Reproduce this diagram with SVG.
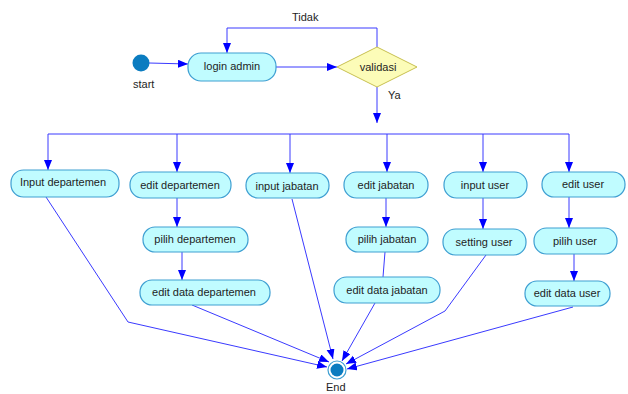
<svg xmlns="http://www.w3.org/2000/svg" width="628" height="394" viewBox="0 0 628 394">
  <style>
    .act rect { fill: #c0fcff; stroke: #3e9fd2; stroke-width: 1.2; }
    text { font-family: "Liberation Sans", Arial, sans-serif; font-size: 11px; fill: #1e1e1e; }
    .act text { text-anchor: middle; }
    .flow path { fill: none; stroke: #3a3aff; stroke-width: 1; }
    .flow path.a { marker-end: url(#arrow); }
    .dot { fill: #0b7cc0; }
  </style>
  <defs>
    <marker id="arrow" markerUnits="userSpaceOnUse" markerWidth="11" markerHeight="9" refX="10" refY="4" orient="auto">
      <path d="M0,0 L10,4 L0,8 z" fill="#0000ff"/>
    </marker>
  </defs>

  <rect width="628" height="394" fill="#ffffff"/>

  <!-- connectors -->
  <g class="flow" id="connectors">
    <path class="a" d="M149,63 L188,64"/>
    <path class="a" d="M276,67 L337,67"/>
    <path class="a" d="M377,47 V28 H227 V53"/>
    <path class="a" d="M377,87 V123"/>
    <path d="M48,134 H569"/>
    <path class="a" d="M48,134 V170"/>
    <path class="a" d="M177,134 V172"/>
    <path class="a" d="M290,134 V173"/>
    <path class="a" d="M387,134 V172"/>
    <path class="a" d="M483,134 V172"/>
    <path class="a" d="M569,134 V172"/>
    <path class="a" d="M177,198 V227"/>
    <path class="a" d="M182,252 V280"/>
    <path class="a" d="M386,198 V227"/>
    <path d="M385,252 L383,277"/>
    <path class="a" d="M483,198 V229"/>
    <path class="a" d="M569,197 V228"/>
    <path class="a" d="M574,254 V281"/>
    <path class="a" d="M46,197 L128,322 L327,367"/>
    <path class="a" d="M192,305 L329,362"/>
    <path class="a" d="M292,199 L333,359"/>
    <path class="a" d="M375,303 L342,361"/>
    <path class="a" d="M486,255 L445,311 L346,364"/>
    <path class="a" d="M573,307 L347,369"/>
  </g>

  <!-- start / end -->
  <g id="start">
    <circle class="dot" cx="141" cy="63" r="8.5"/>
    <text x="133" y="88" font-size="10">start</text>
  </g>
  <g id="end">
    <circle cx="337" cy="370" r="9" fill="#ffffff" stroke="#3e9fd2" stroke-width="1.2"/>
    <circle class="dot" cx="337" cy="370" r="6.5"/>
    <text x="326" y="391">End</text>
  </g>

  <!-- decision -->
  <g id="validasi">
    <polygon points="337,67 377,47 417,67 377,87" fill="#fcfcb8" stroke="#c8c050" stroke-width="1"/>
    <text x="378" y="71" text-anchor="middle">validasi</text>
  </g>
  <text x="292" y="21">Tidak</text>
  <text x="388" y="99">Ya</text>

  <!-- activities -->
  <g class="act" id="login-admin"><rect x="188" y="53" width="88" height="28" rx="13"/><text x="232" y="70">login admin</text></g>

  <g class="act" id="input-departemen"><rect x="11" y="170" width="108" height="27" rx="12.5"/><text x="63" y="186">Input departemen</text></g>
  <g class="act" id="edit-departemen"><rect x="130" y="172" width="101" height="26" rx="12.5"/><text x="180" y="189">edit departemen</text></g>
  <g class="act" id="input-jabatan"><rect x="246" y="173" width="83" height="25" rx="12"/><text x="287" y="190">input jabatan</text></g>
  <g class="act" id="edit-jabatan"><rect x="344" y="172" width="84" height="26" rx="12.5"/><text x="386" y="189">edit jabatan</text></g>
  <g class="act" id="input-user"><rect x="444" y="172" width="83" height="26" rx="12.5"/><text x="485" y="189">input user</text></g>
  <g class="act" id="edit-user"><rect x="542" y="172" width="83" height="25" rx="12"/><text x="583" y="188">edit user</text></g>

  <g class="act" id="pilih-departemen"><rect x="143" y="227" width="105" height="25" rx="12"/><text x="195" y="243">pilih departemen</text></g>
  <g class="act" id="pilih-jabatan"><rect x="346" y="227" width="82" height="25" rx="12"/><text x="387" y="243">pilih jabatan</text></g>
  <g class="act" id="setting-user"><rect x="443" y="229" width="83" height="26" rx="12.5"/><text x="484" y="246">setting user</text></g>
  <g class="act" id="pilih-user"><rect x="534" y="228" width="83" height="26" rx="12.5"/><text x="575" y="245">pilih user</text></g>

  <g class="act" id="edit-data-departemen"><rect x="140" y="280" width="130" height="25" rx="12"/><text x="204" y="296">edit data departemen</text></g>
  <g class="act" id="edit-data-jabatan"><rect x="334" y="277" width="106" height="26" rx="12.5"/><text x="387" y="294">edit data jabatan</text></g>
  <g class="act" id="edit-data-user"><rect x="525" y="281" width="85" height="25" rx="12"/><text x="567" y="297">edit data user</text></g>
</svg>
